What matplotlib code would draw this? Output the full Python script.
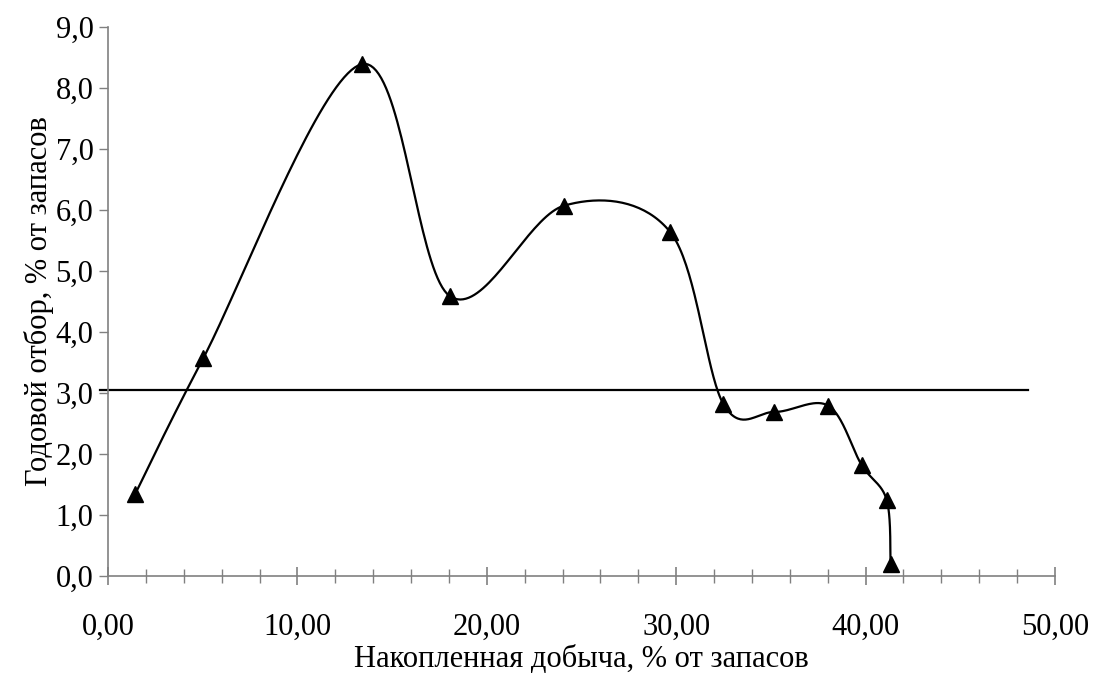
import numpy as np
import matplotlib.pyplot as plt
from matplotlib.ticker import FuncFormatter, MultipleLocator

plt.rcParams['font.family'] = ['Liberation Serif', 'DejaVu Serif']

# data
cum_prod = [1.43, 5.03, 13.39, 18.04, 24.07, 29.68, 32.49, 35.19, 38.04, 39.79, 41.11, 41.32]
annual_rate = [1.34, 3.57, 8.39, 4.59, 6.07, 5.64, 2.82, 2.69, 2.79, 1.82, 1.25, 0.20]

avg_level = 3.05
avg_x = [-0.4, 48.6]


def smooth_line(x, y, n=40):
    # Excel-like smoothed line: cubic Bezier with Catmull-Rom control points
    p = np.column_stack([x, y])
    pts = np.vstack([p[0], p, p[-1]])
    out = []
    for i in range(1, len(pts) - 2):
        p0, p1, p2, p3 = pts[i - 1], pts[i], pts[i + 1], pts[i + 2]
        c1 = p1 + (p2 - p0) / 6.0
        c2 = p2 - (p3 - p1) / 6.0
        t = np.linspace(0, 1, n)[:, None]
        seg = ((1 - t) ** 3) * p1 + 3 * ((1 - t) ** 2) * t * c1 + 3 * (1 - t) * t ** 2 * c2 + t ** 3 * p2
        out.append(seg)
    out = np.vstack(out)
    return out[:, 0], out[:, 1]


fig = plt.figure(figsize=(10.94, 6.82), dpi=100)
ax = fig.add_axes([108 / 1094, 106 / 682, (1055 - 108) / 1094, (576 - 27) / 682])

sx, sy = smooth_line(cum_prod, annual_rate)
ax.plot(sx, sy, color='black', linewidth=1.6, clip_on=False, zorder=3)
ax.plot(cum_prod, annual_rate, linestyle='none', marker='^', markersize=11,
        color='black', clip_on=False, zorder=4)

ax.plot(avg_x, [avg_level, avg_level], color='black', linewidth=1.6, clip_on=False, zorder=2)

ax.set_xlim(0, 50)
ax.set_ylim(0, 9)

ax.xaxis.set_major_locator(MultipleLocator(10))
ax.xaxis.set_minor_locator(MultipleLocator(2))
ax.yaxis.set_major_locator(MultipleLocator(1))

ax.xaxis.set_major_formatter(FuncFormatter(lambda v, pos: f'{v:.2f}'.replace('.', ',')))
ax.yaxis.set_major_formatter(FuncFormatter(lambda v, pos: f'{v:.1f}'.replace('.', ',')))

axis_color = '#808080'
for side in ['top', 'right']:
    ax.spines[side].set_visible(False)
for side in ['left', 'bottom']:
    ax.spines[side].set_color(axis_color)
    ax.spines[side].set_linewidth(1.2)

ax.tick_params(axis='x', which='major', direction='inout', length=13.5, width=1.2,
               color=axis_color, labelsize=22, pad=20)
ax.tick_params(axis='x', which='minor', direction='inout', length=10.5, width=1.0,
               color=axis_color)
ax.tick_params(axis='y', which='major', direction='out', length=6.5, width=1.0,
               color=axis_color, labelsize=22, pad=4)

ax.set_xlabel('Накопленная добыча, % от запасов', fontsize=22, labelpad=2)
ax.set_ylabel('Годовой отбор, % от запасов', fontsize=22, labelpad=1)

fig.savefig('out.png', dpi=100)
